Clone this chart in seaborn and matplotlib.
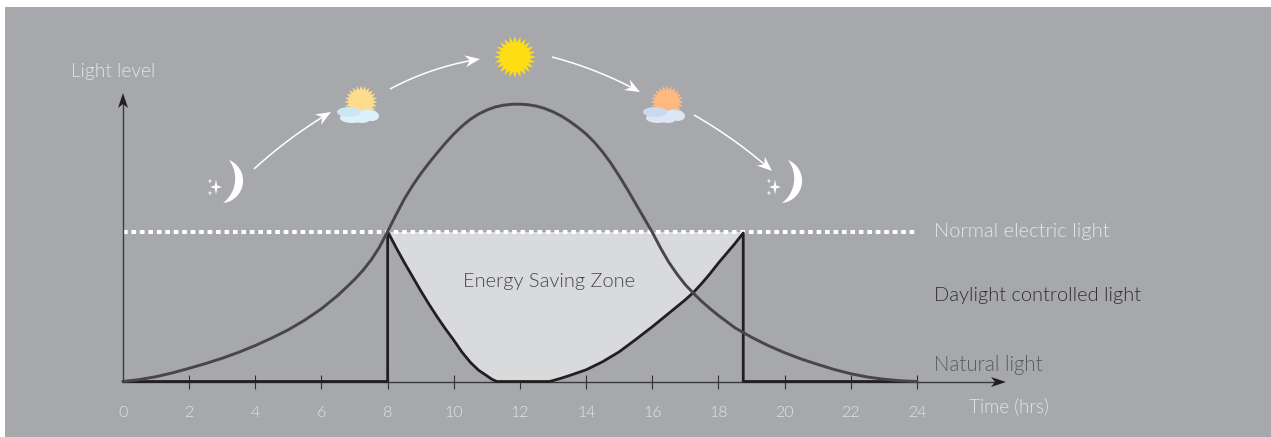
import seaborn as sns
import matplotlib.pyplot as plt
from matplotlib.patches import Ellipse, Polygon
import numpy as np

# values, level 100 = normal electric light
natural_hours = [0, 0.5, 1, 1.5, 2, 2.5, 3, 3.5, 4, 4.5, 5, 5.5, 6, 6.5, 7, 7.25, 7.5, 7.75, 8, 8.25, 8.5, 8.75,
                 9, 9.25, 9.5, 9.75, 10, 10.25, 10.5, 10.75, 11, 11.25, 11.5, 11.75, 12, 12.25, 12.5, 12.75,
                 13, 13.25, 13.5, 13.75, 14, 14.25, 14.5, 14.75, 15, 15.25, 15.5, 15.75, 16, 16.25, 16.5, 16.75,
                 17, 17.25, 17.5, 17.75, 18, 18.5, 19, 19.5, 20, 20.5, 21, 21.5, 22, 22.5, 23, 23.5, 24]
natural_level = [0, 1.3, 3.2, 5.8, 8.8, 12, 15.5, 19.5, 24, 29, 34.5, 41, 48.5, 57.5, 68, 74, 81, 89.5, 100, 111,
                 121.5, 130.5, 138.5, 145.7, 152.5, 159, 165, 170.3, 174.8, 178.3, 181, 183, 184.2, 184.8, 184.9,
                 184.5, 183.6, 182, 179.8, 177, 173.5, 169.5, 165, 159.5, 153, 145.5, 137, 128, 118.5, 109, 99.5,
                 89, 79.5, 71.5, 64.5, 58.7, 53.3, 48.5, 44, 35.8, 29.5, 24, 19.2, 15, 11.4, 8, 5.2, 3, 1.5, 0.5, 0]
daylight_hours = [0, 8, 8, 8.25, 8.5, 8.75, 9, 9.25, 9.5, 9.75, 10, 10.25, 10.5, 10.75, 11, 11.15, 11.3, 12.9,
                  13.25, 13.5, 14, 14.5, 15, 15.5, 16, 16.5, 17, 17.25, 17.5, 17.75, 18, 18.25, 18.5, 18.75, 18.75, 24]
daylight_level = [0, 0, 100, 89.5, 79.5, 70, 60.5, 51.5, 43, 35, 27.5, 19.5, 12.8, 7.5, 3.8, 1.5, 0, 0,
                  2.2, 4, 7.8, 13.2, 19.8, 28, 36.5, 45.5, 54.5, 59.5, 65.5, 72, 79, 85.5, 92, 99, 0, 0]
normal_hours = [0, 24]
normal_level = [100, 100]
tick_hours = list(range(0, 25, 2))

bg = '#a7a8ab'
sns.set_theme(style='white')
plt.rcParams['font.family'] = ['Lato', 'DejaVu Sans']
plt.rcParams['font.weight'] = 300

fig = plt.figure(figsize=(12.71, 4.37), dpi=100, facecolor='white')
ax = fig.add_axes([5 / 1271, 0, 1266 / 1271, 430 / 437], facecolor=bg)

# energy saving zone, between the normal line and the dimmed light
zone_hours = np.array(daylight_hours[2:-2])
zone_level = np.array(daylight_level[2:-2])
ax.fill_between(zone_hours, zone_level, 100, color='#d9dadc', linewidth=0, zorder=1)

sns.lineplot(x=normal_hours, y=normal_level, ax=ax, color='white', linewidth=2.9, estimator=None,
             linestyle=(0, (1.15, 0.95)), zorder=2)
sns.lineplot(x=daylight_hours, y=daylight_level, ax=ax, color='#231f20', linewidth=2.0, estimator=None,
             sort=False, zorder=3)
sns.lineplot(x=natural_hours, y=natural_level, ax=ax, color='#47474a', linewidth=2.1, estimator=None,
             sort=False, zorder=4)

ax.set_xlim(-118 / 33.08, 1148 / 33.08)
ax.set_ylim(-37, 249.67)
for side in ['top', 'right']:
    ax.spines[side].set_visible(False)
ax.spines['bottom'].set_position(('data', 0))
ax.spines['left'].set_position(('data', 0))
ax.spines['bottom'].set_bounds(0, 26.5)
ax.spines['left'].set_bounds(0, 187)
for side in ['bottom', 'left']:
    ax.spines[side].set_color('#3a3a3c')
    ax.spines[side].set_linewidth(1.0)
    ax.spines[side].set_zorder(2.5)
ax.set_yticks([])
ax.set_xticks(tick_hours)
ax.set_xticklabels(tick_hours)
ax.tick_params(axis='x', direction='inout', length=9.4, width=0.8, color='#2f2f31', pad=13,
               labelsize=11.5, labelcolor='#e4e5e6', bottom=True)
ax.xaxis.get_major_ticks()[0].tick1line.set_visible(False)
ax.set_xlabel('')
ax.set_ylabel('')

# overlay in pixels for the icons and labels
over = fig.add_axes([0, 0, 1, 1], facecolor='none')
over.set_xlim(0, 1271)
over.set_ylim(437, 0)
over.axis('off')


def sun(cx, cy, r_out, r_in, color, n=24):
    ang = np.linspace(0, 2 * np.pi, 2 * n, endpoint=False)
    r = np.where(np.arange(2 * n) % 2 == 0, r_out, r_in)
    over.add_patch(Polygon(np.c_[cx + r * np.sin(ang), cy - r * np.cos(ang)], color=color, lw=0))


def cloud(cx, cy, back, front):
    for dx, dy, w, h in [(-9, 11, 24, 10), (1, 12, 16, 8), (7, 8, 20, 11), (11, 9, 14, 10)]:
        over.add_patch(Ellipse((cx + dx, cy + dy), w, h, color=front, lw=0))
    over.add_patch(Ellipse((cx - 12, cy + 5), 24, 10, color=back, lw=0))


def star(cx, cy, rx, ry):
    pts = [(cx, cy - ry), (cx + rx * 0.2, cy - ry * 0.2), (cx + rx, cy), (cx + rx * 0.2, cy + ry * 0.2),
           (cx, cy + ry), (cx - rx * 0.2, cy + ry * 0.2), (cx - rx, cy), (cx - rx * 0.2, cy - ry * 0.2)]
    over.add_patch(Polygon(pts, color='white', lw=0))


def arc(a, b, sag):
    # circular arc from a to b that bulges sag pixels to the right
    a, b = np.array(a, float), np.array(b, float)
    half = np.linalg.norm(b - a) / 2
    d = (b - a) / (2 * half)
    n = np.array([-d[1], d[0]]) * -1
    if n[0] < 0:
        n = -n
    r = (half ** 2 + sag ** 2) / (2 * sag)
    lim = np.arcsin(half / r)
    th = np.linspace(-lim, lim, 40)[:, None]
    return (a + b) / 2 + n * (sag - r) + r * np.cos(th) * n + r * np.sin(th) * d


def moon(shift):
    tip_a, tip_b = (229 + shift, 160), (223 + shift, 203)
    over.add_patch(Polygon(np.r_[arc(tip_a, tip_b, 17), arc(tip_a, tip_b, 9)[::-1]], color='white', lw=0))
    star(216 + shift, 187, 6, 7.5)
    star(210 + shift, 181, 2.4, 3)
    star(210 + shift, 193, 2.4, 3)


def head(tip, back, color, length=14, width=6, notch=10):
    tip, back = np.array(tip, float), np.array(back, float)
    u = (tip - back) / np.linalg.norm(tip - back)
    n = np.array([-u[1], u[0]])
    pts = [tip, tip - length * u + width * n, tip - notch * u, tip - length * u - width * n]
    over.add_patch(Polygon(pts, color=color, lw=0, zorder=6))


sun(515, 57, 21, 14.5, '#ffdd15')
sun(361, 102, 16.5, 12, '#fddc8c')
cloud(361, 107, '#cbe6f5', '#dcf0fa')
sun(667, 102, 16.5, 12, '#fdb97f')
cloud(667, 107, '#c9daee', '#dbe5f4')
moon(0)
moon(559)

# arcs between the icons, start, control, end
for p0, c, p1 in [((254, 169), (289.5, 136.5), (331, 112)), ((390, 89), (432.5, 66.4), (480, 59)),
                  ((552, 57), (598, 69), (640, 92)), ((694, 115), (736, 139), (772, 171))]:
    t = np.linspace(0, 1, 40)
    xs = (1 - t) ** 2 * p0[0] + 2 * t * (1 - t) * c[0] + t ** 2 * p1[0]
    ys = (1 - t) ** 2 * p0[1] + 2 * t * (1 - t) * c[1] + t ** 2 * p1[1]
    over.plot(xs[:-3], ys[:-3], color='white', lw=1.1, solid_capstyle='butt')
    head(p1, c, 'white', length=15, width=6, notch=10)

# axis arrow heads
head((123, 93), (123, 120), '#231f20', length=15, width=5, notch=11)
head((1006, 382), (980, 382), '#231f20', length=15, width=5, notch=11)

over.text(71, 72, 'Light level', color='#e4e5e6', fontsize=13.8, va='center', ha='left')
over.text(969, 407, 'Time (hrs)', color='#e4e5e6', fontsize=13.6, va='center', ha='left')
over.text(934, 231, 'Normal electric light', color='#e4e5e6', fontsize=14.6, va='center', ha='left')
over.text(934, 295, 'Daylight controlled light', color='#303032', fontsize=14.4, va='center', ha='left')
over.text(934, 365, 'Natural light', color='#5a5b5d', fontsize=14.8, va='center', ha='left')
over.text(463, 281, 'Energy Saving Zone', color='#47474a', fontsize=14.4, va='center', ha='left')

plt.savefig('out.png', dpi=100, facecolor='white')
